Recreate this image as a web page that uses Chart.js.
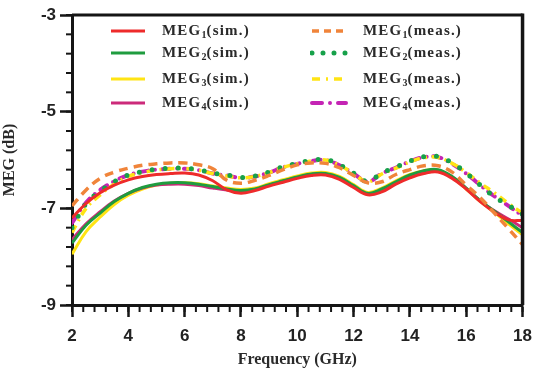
<!DOCTYPE html>
<html>
<head>
<meta charset="utf-8">
<script src="https://cdn.jsdelivr.net/npm/chart.js@4.4.0/dist/chart.umd.min.js"></script>
<style>
    body { margin: 0; background: #fff; }
    #wrap { position: relative; width: 541px; height: 371px; }
    #legend { position: absolute; left: 0; top: 0; font-family: "Liberation Serif", serif; font-weight: bold; font-size: 15px; color: #2a2a2a; }
    .item { position: absolute; height: 20px; line-height: 20px; white-space: nowrap; letter-spacing: 1.2px; }
    .item sub { font-size: 10px; vertical-align: -3px; line-height: 0; letter-spacing: 0; }
    .swatch { position: absolute; }
    .swatch svg { display: block; }
</style>
</head>
<body>
<div id="wrap">
    <canvas id="megChart" width="541" height="371"></canvas>
    <div id="legend"></div>
</div>
<script>
const freq = [2, 2.5, 3, 3.5, 4, 4.5, 5, 5.5, 6, 6.5, 7, 7.5, 8, 8.5, 9, 9.5, 10,
              10.5, 11, 11.5, 12, 12.5, 13, 13.5, 14, 14.5, 15, 15.5, 16, 16.5, 17, 17.5, 18]

const meg1Sim  = [-7.20, -6.90, -6.68, -6.52, -6.41, -6.34, -6.30, -6.28, -6.27, -6.31, -6.43, -6.62, -6.69, -6.63, -6.54, -6.46, -6.38,
                  -6.32, -6.31, -6.40, -6.57, -6.72, -6.66, -6.50, -6.37, -6.28, -6.25, -6.38, -6.60, -6.86, -7.08, -7.24, -7.25]
const meg2Sim  = [-7.72, -7.35, -7.10, -6.86, -6.69, -6.57, -6.50, -6.47, -6.47, -6.50, -6.55, -6.60, -6.63, -6.60, -6.51, -6.43, -6.35,
                  -6.29, -6.28, -6.36, -6.53, -6.69, -6.60, -6.45, -6.31, -6.22, -6.20, -6.34, -6.58, -6.84, -7.06, -7.28, -7.50]
const meg3Sim  = [-7.95, -7.48, -7.18, -6.92, -6.73, -6.60, -6.52, -6.48, -6.47, -6.49, -6.54, -6.58, -6.61, -6.58, -6.49, -6.41, -6.33,
                  -6.27, -6.26, -6.34, -6.51, -6.67, -6.58, -6.43, -6.30, -6.22, -6.21, -6.36, -6.60, -6.86, -7.08, -7.32, -7.55]
const meg4Sim  = [-7.65, -7.32, -7.07, -6.85, -6.69, -6.58, -6.52, -6.50, -6.50, -6.53, -6.58, -6.62, -6.64, -6.61, -6.52, -6.44, -6.36,
                  -6.30, -6.29, -6.37, -6.54, -6.70, -6.61, -6.46, -6.32, -6.23, -6.22, -6.35, -6.59, -6.85, -7.05, -7.22, -7.40]

const meg1Meas = [-6.95, -6.62, -6.38, -6.25, -6.17, -6.11, -6.08, -6.06, -6.06, -6.10, -6.18, -6.42, -6.48, -6.42, -6.32, -6.20, -6.10,
                  -6.06, -6.07, -6.16, -6.32, -6.47, -6.45, -6.30, -6.20, -6.12, -6.12, -6.25, -6.52, -6.78, -7.10, -7.42, -7.75]
const meg2Meas = [-7.40, -6.90, -6.65, -6.45, -6.31, -6.24, -6.19, -6.17, -6.17, -6.20, -6.27, -6.31, -6.36, -6.33, -6.25, -6.14, -6.07,
                  -6.01, -5.99, -6.10, -6.27, -6.44, -6.27, -6.15, -6.02, -5.93, -5.93, -6.06, -6.27, -6.52, -6.76, -6.94, -7.12]
const meg3Meas = [-7.50, -7.00, -6.72, -6.50, -6.34, -6.26, -6.21, -6.18, -6.18, -6.21, -6.28, -6.33, -6.37, -6.34, -6.26, -6.15, -6.08,
                  -6.02, -6.00, -6.11, -6.28, -6.45, -6.29, -6.17, -6.04, -5.95, -5.95, -6.07, -6.26, -6.48, -6.68, -6.90, -7.10]
const meg4Meas = [-7.30, -6.88, -6.62, -6.44, -6.31, -6.24, -6.20, -6.18, -6.18, -6.21, -6.28, -6.32, -6.37, -6.34, -6.26, -6.15, -6.08,
                  -6.02, -6.00, -6.11, -6.28, -6.45, -6.28, -6.16, -6.03, -5.94, -5.94, -6.08, -6.28, -6.52, -6.75, -6.95, -7.15]

const yTicks = [-9, -7, -5, -3]
const xTicks = [2, 4, 6, 8, 10, 12, 14, 16, 18]

function pts(arr) {
    return freq.map((f, i) => ({ x: f, y: arr[i] }))
}

const series = [
    { label: "MEG1(sim.)",  data: meg1Sim,  color: "#ee2b2b", dash: [],           width: 3,   cap: "butt" },
    { label: "MEG2(sim.)",  data: meg2Sim,  color: "#1f9c3f", dash: [],           width: 3,   cap: "butt" },
    { label: "MEG3(sim.)",  data: meg3Sim,  color: "#ffe414", dash: [],           width: 3,   cap: "butt" },
    { label: "MEG4(sim.)",  data: meg4Sim,  color: "#cc2a7a", dash: [],           width: 3,   cap: "butt" },
    { label: "MEG1(meas.)", data: meg1Meas, color: "#f0843a", dash: [9, 6],       width: 3.5, cap: "butt" },
    { label: "MEG2(meas.)", data: meg2Meas, color: "#17a14a", dash: [0, 13],      width: 5,   cap: "round" },
    { label: "MEG3(meas.)", data: meg3Meas, color: "#ffe414", dash: [8, 5, 2, 5], width: 3.5, cap: "butt" },
    { label: "MEG4(meas.)", data: meg4Meas, color: "#c424b4", dash: [8, 7, 0, 7], width: 4,   cap: "round" }
]

// legend swatch dashes (the legend sample is shorter than the curves)
const legendDash = [[], [], [], [], [7, 5], [0, 11], [8, 6, 2, 6], [10, 8, 0, 8]]

// draw order: red sim on top of the other sims, measured above sims
const drawOrder = [4, 0, 5, 6, 7, 1, 3, 2]

// frame (top/right) and minor ticks
const framePlugin = {
    id: "frame",
    afterDraw(chart) {
        const { ctx, chartArea: a, scales } = chart
        ctx.save()
        ctx.strokeStyle = "#151515"
        ctx.lineWidth = 3
        ctx.beginPath()
        ctx.moveTo(a.left, a.top)
        ctx.lineTo(a.right, a.top)
        ctx.stroke()
        ctx.lineWidth = 3.5
        ctx.beginPath()
        ctx.moveTo(a.right, a.top - 1.5)
        ctx.lineTo(a.right, a.bottom)
        ctx.stroke()

        ctx.lineWidth = 2
        for (let k = 0; k <= 40; k++) {
            const px = scales.x.getPixelForValue(2 + k * 0.4)
            ctx.beginPath()
            ctx.moveTo(px, a.bottom)
            ctx.lineTo(px, a.bottom + 7)
            ctx.stroke()
        }
        for (let k = 0; k <= 15; k++) {
            const py = scales.y.getPixelForValue(-9 + k * 0.4)
            ctx.beginPath()
            ctx.moveTo(a.left - 6, py)
            ctx.lineTo(a.left, py)
            ctx.stroke()
        }
        ctx.restore()
    }
}

const ctx = document.getElementById("megChart").getContext("2d")
new Chart(ctx, {
    type: "line",
    data: {
        datasets: series.map((s, i) => ({
            label: s.label,
            data: pts(s.data),
            borderColor: s.color,
            borderWidth: s.width,
            borderDash: s.dash,
            borderCapStyle: s.cap,
            pointRadius: 0,
            tension: 0.4,
            fill: false,
            order: drawOrder.indexOf(i)
        }))
    },
    options: {
        responsive: false,
        animation: false,
        layout: { padding: { top: 15, right: 14, left: 0, bottom: 0 } },
        plugins: { legend: { display: false }, tooltip: { enabled: false } },
        scales: {
            x: {
                type: "linear",
                min: 2, max: 18,
                afterBuildTicks: axis => { axis.ticks = xTicks.map(v => ({ value: v })) },
                afterFit: axis => { axis.height = 66 },
                ticks: { color: "#222", padding: 9, font: { family: "Liberation Sans", weight: "bold", size: 17 } },
                grid: { drawOnChartArea: false, drawTicks: true, tickLength: 12, tickWidth: 2.5, tickColor: "#151515" },
                border: { display: true, color: "#151515", width: 3 },
                title: { display: true, text: "Frequency (GHz)", color: "#2a2a2a", padding: { top: 0, bottom: 2 },
                         font: { family: "Liberation Serif", weight: "bold", size: 16 } }
            },
            y: {
                min: -9, max: -3,
                afterBuildTicks: axis => { axis.ticks = yTicks.map(v => ({ value: v })) },
                afterFit: axis => { axis.width = 72 },
                ticks: { color: "#222", padding: 4, font: { family: "Liberation Sans", weight: "bold", size: 17 } },
                grid: { drawOnChartArea: false, drawTicks: true, tickLength: 12, tickWidth: 2.5, tickColor: "#151515" },
                border: { display: true, color: "#151515", width: 3 },
                title: { display: true, text: "MEG (dB)", color: "#2a2a2a", padding: { top: 0, bottom: 10 },
                         font: { family: "Liberation Serif", weight: "bold", size: 16 } }
            }
        }
    },
    plugins: [framePlugin]
})

// HTML legend with subscripts
const legendRows = [31, 53, 79, 103]
const legendEl = document.getElementById("legend")
series.forEach((s, i) => {
    const col = i < 4 ? 0 : 1
    const row = i % 4
    const y = legendRows[row]
    const sx = col === 0 ? 109 : 310
    const tx = col === 0 ? 162 : 363
    const sw = document.createElement("div")
    sw.className = "swatch"
    sw.style.left = sx + "px"
    sw.style.top = (y - 4) + "px"
    const d = legendDash[i]
    const dash = d.length ? `stroke-dasharray="${d.join(" ")}"` : ""
    sw.innerHTML = `<svg width="38" height="8"><line x1="2" y1="4" x2="36" y2="4" stroke="${s.color}"
        stroke-width="${s.width}" stroke-linecap="${s.cap}" ${dash}/></svg>`
    legendEl.appendChild(sw)

    const item = document.createElement("div")
    item.className = "item"
    item.style.left = tx + "px"
    item.style.top = (y - 11) + "px"
    item.innerHTML = s.label.replace(/MEG(\d)/, "MEG<sub>$1</sub>")
    legendEl.appendChild(item)
})
</script>
</body>
</html>
